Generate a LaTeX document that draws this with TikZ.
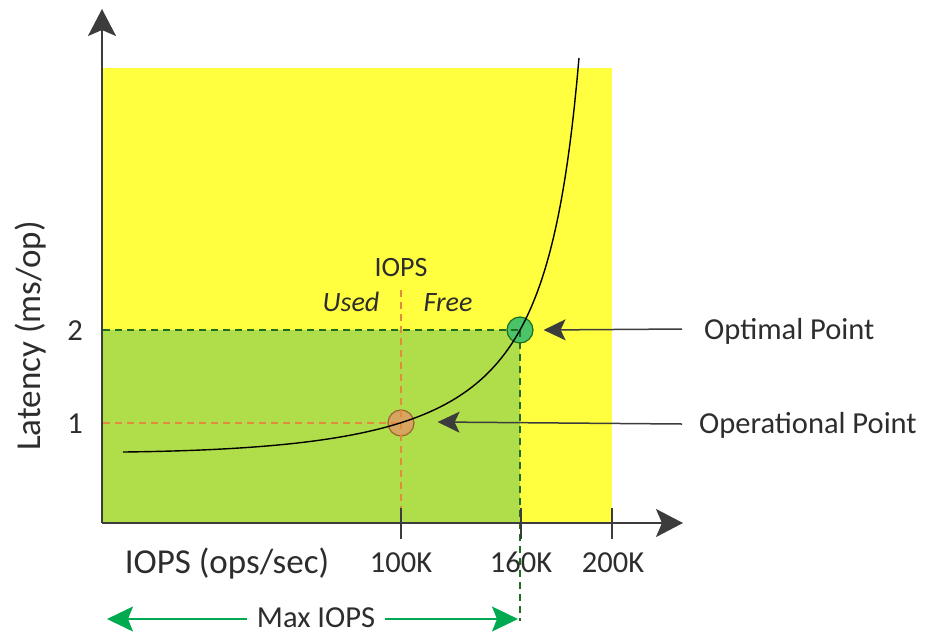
\documentclass[tikz,border=0pt]{standalone}
\usepackage{fontspec}
\setmainfont{Carlito}
\usetikzlibrary{arrows.meta}
\definecolor{yel}{RGB}{255,255,64}
\definecolor{grn}{RGB}{176,221,74}
\definecolor{txt}{RGB}{45,45,45}
\definecolor{axisc}{RGB}{60,60,60}
\definecolor{dgreen}{RGB}{30,110,30}
\definecolor{dorange}{RGB}{225,140,60}
\definecolor{cgreen}{RGB}{75,195,105}
\definecolor{corange}{RGB}{215,165,95}
\definecolor{maxg}{RGB}{0,170,80}
\begin{document}
\begin{tikzpicture}[x=1pt,y=-1pt,
  lbl/.style={font=\fontsize{30.5}{32}\selectfont, text=txt, inner sep=0pt},
  big/.style={font=\fontsize{35}{37}\selectfont},
  mid/.style={font=\fontsize{28}{30}\selectfont},
  miditalic/.style={font=\fontsize{28}{30}\selectfont\itshape},
  axisline/.style={draw=axisc, line width=2pt, -{Stealth[length=27pt,width=28pt,inset=6pt]}},
  ptr/.style={draw=axisc, line width=1.5pt, -{Stealth[length=22pt,width=21pt,inset=5pt]}},
  tick/.style={draw=axisc, line width=2pt},
  gdash/.style={draw=dgreen, line width=1.2pt, dash pattern=on 7pt off 5pt},
  odash/.style={draw=dorange, line width=1.2pt, dash pattern=on 7pt off 5pt},
  pt/.style={circle, minimum size=26pt, inner sep=0pt, line width=1.2pt},
  maxarr/.style={draw=maxg, line width=1.5pt, -{Stealth[length=26pt,width=25pt,inset=5pt]}}]
\useasboundingbox (0,0) rectangle (927,633);
% regions
\fill[yel] (103,68) rectangle (612,523);
\fill[grn] (103,330) rectangle (520,523);
% points
\node[pt, fill=corange, draw=brown!80!black] (oppt) at (401,423) {};
\node[pt, fill=cgreen, draw=dgreen] (optpt) at (520,330) {};
% dashed guide lines
\coordinate (y1) at (103,423);
\coordinate (y2) at (103,330);
\coordinate (ustart) at (401,290);
\coordinate (xb100) at (401,523);
\coordinate (maxend) at (520,621);
\draw[odash] (y1) -- (oppt.center);
\draw[odash] (ustart) -- (xb100);
\draw[gdash] (y2) -- (optpt.center);
\draw[gdash] (optpt.center) -- (maxend);
% curve
\draw[black, line width=1.4pt] plot[domain=123:579, samples=200] (\x,{480.6+0.0608*\x-178.56/((618-\x)/100)});
% axes
\coordinate (origin) at (102,523);
\coordinate (ytop) at (102,9);
\coordinate (xtip) at (683,523);
\draw[axisline] (origin) -- (ytop);
\draw[axisline] (origin) -- (xtip);
% ticks
\coordinate (t1a) at (401,508); \coordinate (t1b) at (401,539);
\coordinate (t2a) at (521,508); \coordinate (t2b) at (521,539);
\coordinate (t3a) at (612,508); \coordinate (t3b) at (612,539);
\draw[tick] (t1a) -- (t1b);
\draw[tick] (t2a) -- (t2b);
\draw[tick] (t3a) -- (t3b);
% labels
\node[lbl, big, rotate=90] (ylab) at (31,336) {Latency (ms/op)};
\node[lbl, anchor=base] (l1) at (75,433) {1};
\node[lbl, anchor=base] (l2) at (75,340) {2};
\node[lbl, big, anchor=base] (xlab) at (227,573) {IOPS (ops/sec)};
\node[lbl, anchor=base] (x100) at (401,572) {100K};
\node[lbl, anchor=base] (x160) at (521,572) {160K};
\node[lbl, anchor=base] (x200) at (613,572) {200K};
\node[lbl, mid, anchor=base] (iops) at (401,276) {IOPS};
\node[lbl, miditalic, anchor=base] (used) at (351,311) {Used};
\node[lbl, miditalic, anchor=base] (free) at (448,311) {Free};
\node[lbl, anchor=base west] (optl) at (704,339) {Optimal Point};
\node[lbl, anchor=base west] (operl) at (699,433) {Operational Point};
% pointers
\coordinate (optfrom) at (682,329);
\coordinate (operfrom) at (682,424);
\draw[ptr] (optfrom) -- ([xshift=10pt]optpt.east);
\draw[ptr] (operfrom) -- ([xshift=23pt,yshift=1pt]oppt.east);
% max IOPS
\node[lbl, anchor=base, fill=white, inner xsep=10pt] (maxl) at (316,627) {Max IOPS};
\coordinate (maxleft) at (107,619);
\coordinate (maxright) at (518,619);
\draw[maxarr] (maxl.west |- maxleft) -- (maxleft);
\draw[maxarr] (maxl.east |- maxright) -- (maxright);
\end{tikzpicture}
\end{document}
